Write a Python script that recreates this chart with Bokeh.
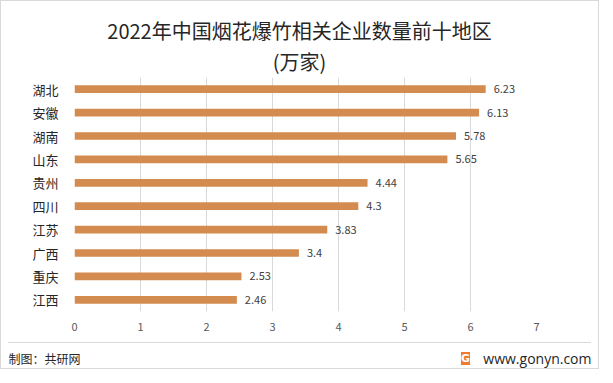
from bokeh.plotting import figure
from bokeh.layouts import column
from bokeh.models import ColumnDataSource, FactorRange, Range1d, Label, LabelSet, FixedTicker
from bokeh.embed import file_html
from bokeh.resources import INLINE
from bokeh.core.properties import value

# ---- data ----
regions = ["湖北", "安徽", "湖南", "山东", "贵州", "四川", "江苏", "广西", "重庆", "江西"]
counts = [6.23, 6.13, 5.78, 5.65, 4.44, 4.3, 3.83, 3.4, 2.53, 2.46]
count_labels = ["6.23", "6.13", "5.78", "5.65", "4.44", "4.3", "3.83", "3.4", "2.53", "2.46"]
x_ticks = [0, 1, 2, 3, 4, 5, 6, 7]
title_text = "2022年中国烟花爆竹相关企业数量前十地区"
subtitle_text = "(万家)"
source_text = "制图：共研网"
site_text = "www.gonyn.com"

CJK = "Noto Sans CJK SC"
BAR = "#D48B4F"
W = 597
H_HEAD, H_MAIN, H_FOOT = 76, 265, 26
FOOT_INSET = 7


def blank(w, h):
    f = figure(width=w, height=h, x_range=Range1d(0, w), y_range=Range1d(0, h),
               output_backend="svg", toolbar_location=None,
               x_axis_type=None, y_axis_type=None,
               min_border=0, min_border_left=0, min_border_right=0,
               min_border_top=0, min_border_bottom=0)
    f.outline_line_color = None
    f.xgrid.visible = False
    f.ygrid.visible = False
    f.frame_align = False
    return f


# ---- header ----
head = blank(W, H_HEAD)
head.add_layout(Label(x=298, y=H_HEAD - 29, text=title_text, text_align="center",
                      text_baseline="middle", text_font=CJK,
                      text_font_size="20px", text_color="#262626"))
head.add_layout(Label(x=298, y=H_HEAD - 60, text=subtitle_text, text_align="center",
                      text_baseline="middle", text_font=CJK,
                      text_font_size="20px", text_color="#262626"))

# ---- main chart ----
src = ColumnDataSource(dict(region=regions, count=counts, label=count_labels))

p = figure(
    width=W, height=H_MAIN,
    y_range=FactorRange(factors=list(reversed(regions)), range_padding=0),
    x_range=Range1d(0, 7),
    output_backend="svg", toolbar_location=None,
    min_border_left=73, min_border_right=62, min_border_top=0, min_border_bottom=31,
)
p.outline_line_color = None
p.frame_align = False

p.hbar(y="region", right="count", left=0, height=0.33, source=src,
       fill_color=BAR, line_color=None)

p.add_layout(LabelSet(x="count", y="region", text="label", source=src,
                      x_offset=8, text_baseline="middle", text_align="left",
                      text_font=value(CJK), text_font_size="11px", text_color="#404040"))

p.xaxis.ticker = FixedTicker(ticks=x_ticks)
p.xaxis.axis_line_color = None
p.xaxis.major_tick_line_color = None
p.xaxis.minor_tick_line_color = None
p.xaxis.major_label_standoff = 5
p.xaxis.major_label_text_font = CJK
p.xaxis.major_label_text_font_size = "11px"
p.xaxis.major_label_text_color = "#595959"

p.yaxis.axis_line_color = None
p.yaxis.major_tick_line_color = None
p.yaxis.minor_tick_line_color = None
p.yaxis.major_label_standoff = 10
p.yaxis.major_label_text_font = CJK
p.yaxis.major_label_text_font_size = "13px"
p.yaxis.major_label_text_color = "#262626"

p.xgrid.grid_line_color = "#d9d9d9"
p.ygrid.grid_line_color = None

# ---- footer (top border = separator line) ----
FW = W - 2 * FOOT_INSET
foot = blank(FW, H_FOOT)
foot.margin = (0, FOOT_INSET, 0, FOOT_INSET)
foot.styles = {"border-top": "1px solid #d9d9d9"}
foot.add_layout(Label(x=0, y=H_FOOT - 15, text=source_text, text_align="left",
                      text_baseline="middle", text_font=CJK,
                      text_font_size="12px", text_color="#262626"))
foot.add_layout(Label(x=FW, y=H_FOOT - 15, text=site_text, text_align="right",
                      text_baseline="middle", text_font="Open Sans",
                      text_font_size="14px", text_color="#262626"))
foot.add_layout(Label(x=457, y=H_FOOT - 15, text="G", text_align="center",
                      text_baseline="middle", text_font="DejaVu Sans",
                      text_font_style="bold", text_font_size="11px", text_color="white",
                      background_fill_color="#EE7B30", border_line_color=None))

layout = column(head, p, foot, spacing=0)
layout.styles = {"border": "1px solid #d9d9d9"}

open("out.html", "w").write(file_html(layout, INLINE))
